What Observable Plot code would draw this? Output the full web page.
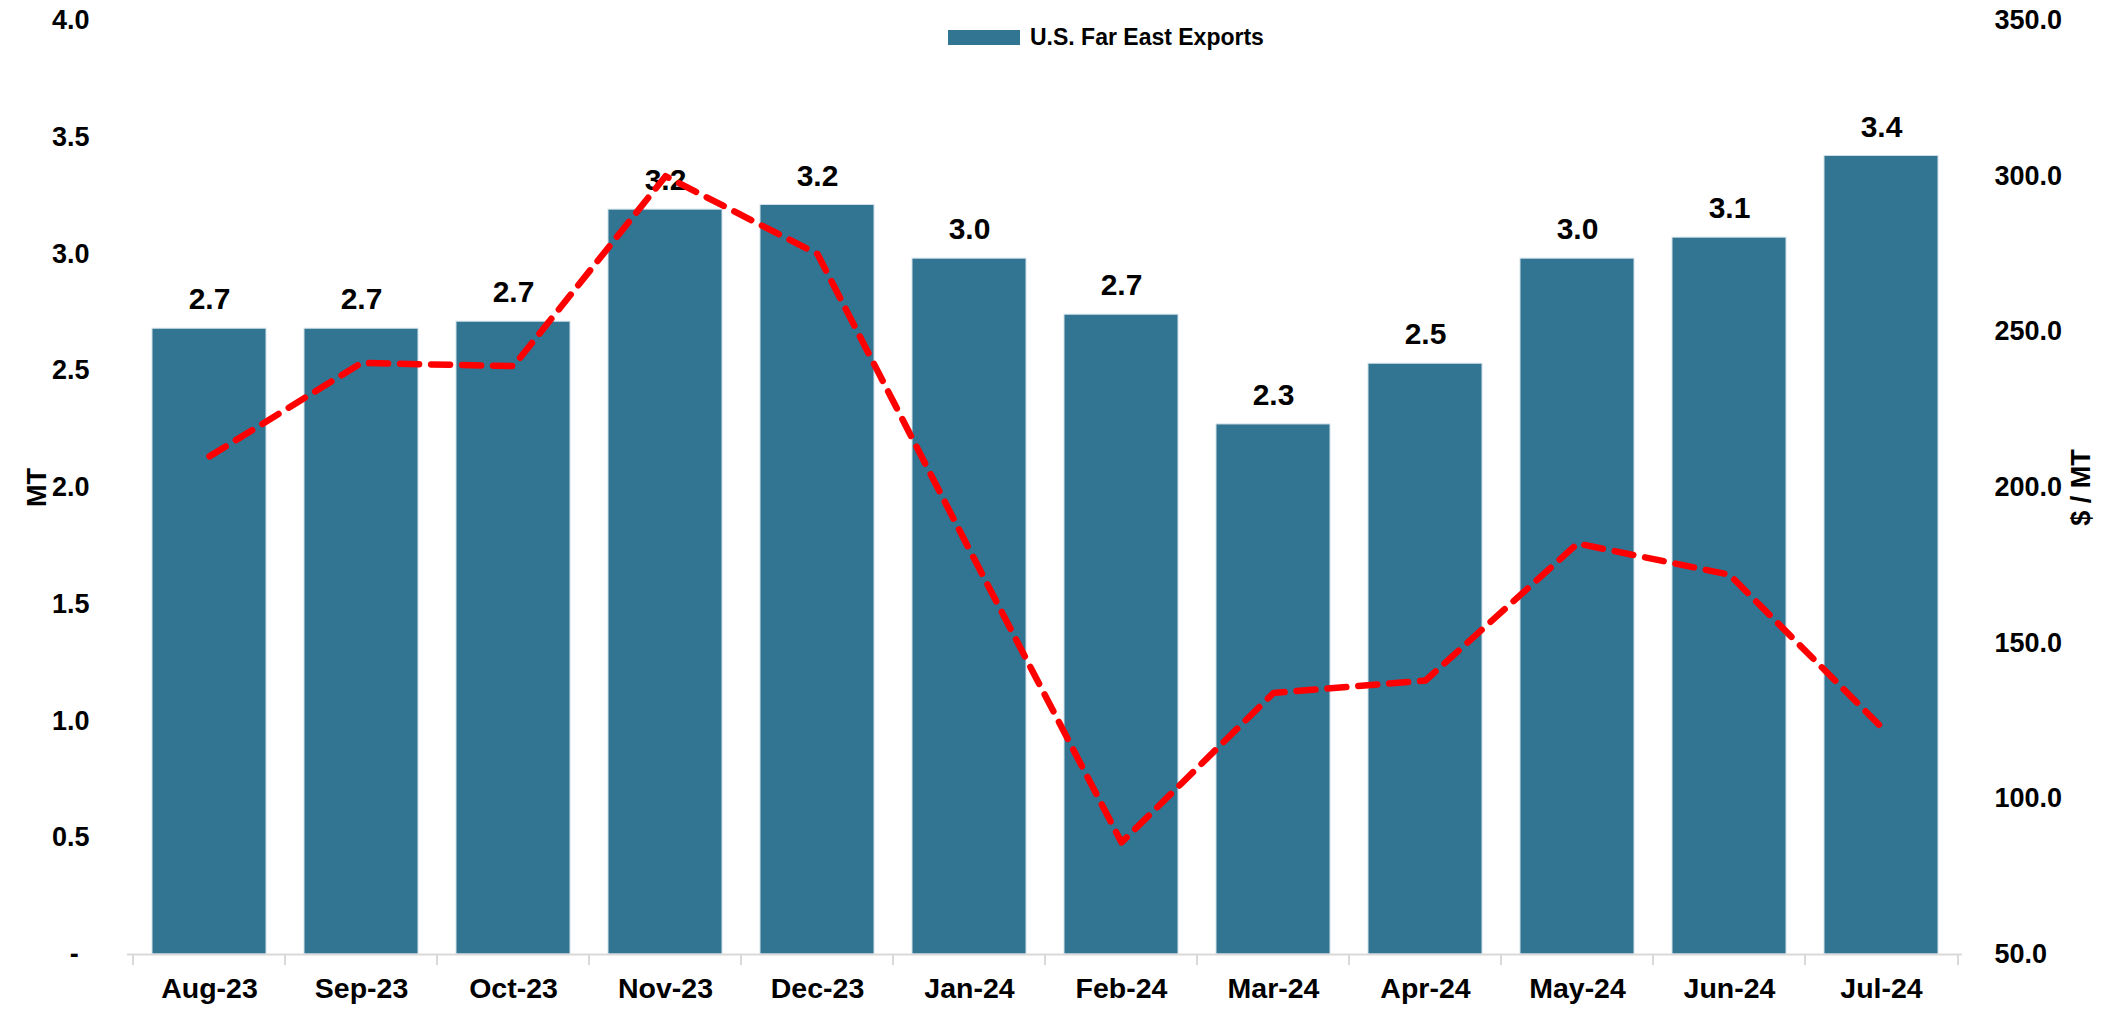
<!DOCTYPE html>
<html><head><meta charset="utf-8">
<script src="https://cdn.jsdelivr.net/npm/d3@7"></script>
<script src="https://cdn.jsdelivr.net/npm/@observablehq/plot@0.6"></script>
<style>
body{margin:0;background:#fff;font-family:"Liberation Sans",Arial,sans-serif;}
#wrap{position:relative;width:2103px;height:1010px;}
#legend{position:absolute;left:948px;top:24px;display:flex;align-items:center;font-weight:bold;font-size:23px;color:#000;z-index:2;}
#legend .sw{width:72px;height:15px;background:#327593;margin-right:10px;display:inline-block;}
</style></head><body>
<div id="wrap"><div id="legend"><span class="sw"></span><span>U.S. Far East Exports</span></div></div>
<script>
const months = ["Aug-23","Sep-23","Oct-23","Nov-23","Dec-23","Jan-24","Feb-24","Mar-24","Apr-24","May-24","Jun-24","Jul-24"];
const exportsMT = [2.68, 2.68, 2.71, 3.19, 3.21, 2.98, 2.74, 2.27, 2.53, 2.98, 3.07, 3.42];
const pricePerMT = [210, 240, 239, 300, 275, 180, 86, 134, 138, 182, 172, 123];
const leftTicks = [0, 0.5, 1, 1.5, 2, 2.5, 3, 3.5, 4];
const rightTicks = [50, 100, 150, 200, 250, 300, 350];

const W = 2103, H = 1010, ML = 127, MR = 141, MT = 20, MB = 56;
const step = (W - ML - MR) / months.length;
const rMin = 50, rMax = 350, lMax = 4;
const toLeft = v => (v - rMin) / (rMax - rMin) * lMax;
const fromLeft = v => v / lMax * (rMax - rMin) + rMin;

const data = months.map((m, i) => ({month: m, mt: exportsMT[i], price: pricePerMT[i]}));
const barColor = "#327593";
const font = "Liberation Sans, Arial, sans-serif";

const chart = Plot.plot({
  width: W, height: H,
  marginLeft: ML, marginRight: MR, marginTop: MT, marginBottom: MB,
  style: {fontFamily: font, fontWeight: "bold", color: "#000", background: "#fff"},
  x: {domain: months, paddingInner: 0.25, paddingOuter: 0.125},
  y: {domain: [0, lMax]},
  marks: [
    Plot.barY(data, {x: "month", y: "mt", fill: barColor, stroke: "#d3e2ea", strokeWidth: 1}),
    Plot.ruleY([0], {stroke: "#d9d9d9", strokeWidth: 2}),
    Plot.axisX({ticks: months, tickSize: 11, text: null, label: null, stroke: "#d9d9d9", strokeWidth: 2, dx: -step / 2}),
    Plot.axisX({ticks: [months[months.length - 1]], tickSize: 11, text: null, label: null, stroke: "#d9d9d9", strokeWidth: 2, dx: step / 2}),
    Plot.axisX({tickSize: 0, tickPadding: 23, fontSize: 28.5, fill: "#000", label: null}),
    Plot.axisY({anchor: "left", ticks: leftTicks, tickSize: 0, tickPadding: 38, fontSize: 27, fill: "#000",
      tickFormat: d => d === 0 ? "-\u2009\u2009" : d3.format(".1f")(d),
      label: "MT", labelAnchor: "center", labelArrow: "none", labelOffset: 101}),
    Plot.axisY({anchor: "right", ticks: rightTicks.map(toLeft), tickSize: 0, tickPadding: 32, fontSize: 27, fill: "#000",
      textAnchor: "start",
      tickFormat: d => d3.format(".1f")(fromLeft(d)),
      label: "$ / MT", labelAnchor: "center", labelArrow: "none", labelOffset: 127}),
    Plot.text(data, {x: "month", y: "mt", text: d => d3.format(".1f")(d.mt), dy: -29, fontSize: 30, fill: "#000", fontWeight: "bold"}),
    Plot.line(data, {x: "month", y: d => toLeft(d.price), stroke: "#ff0000", strokeWidth: 6.5, strokeDasharray: "19,12", strokeLinejoin: "round"})
  ]
});
document.getElementById("wrap").appendChild(chart);
chart.style.position = "absolute";
chart.style.left = "0";
chart.style.top = "0";
</script>
</body></html>
